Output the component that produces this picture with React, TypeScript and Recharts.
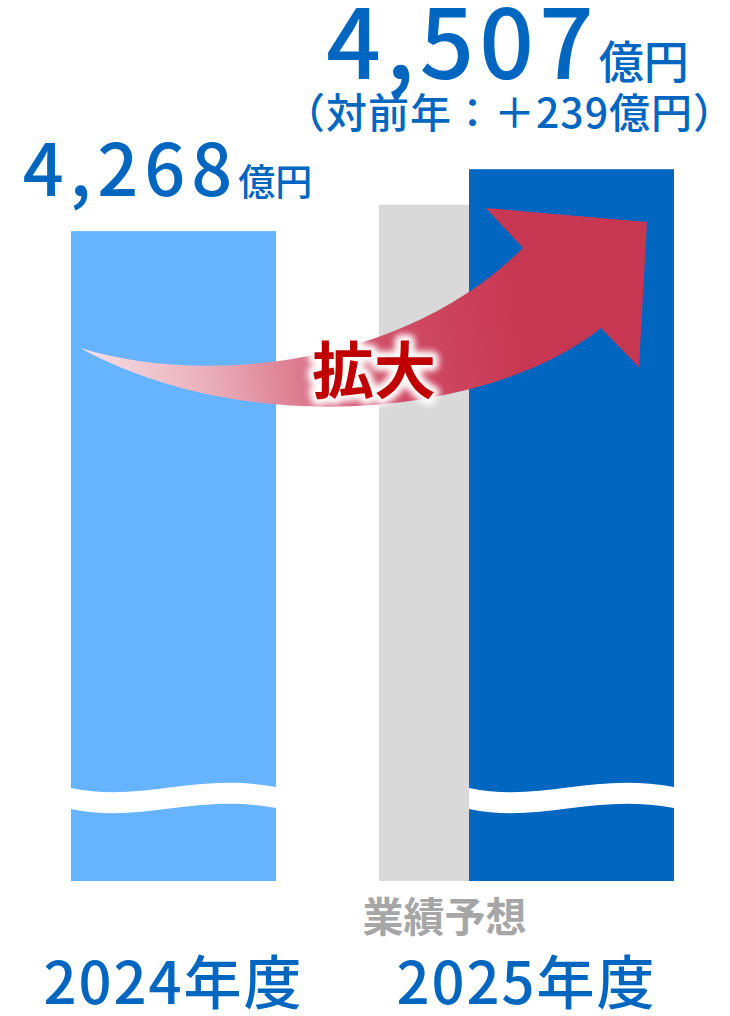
import { BarChart, Bar, XAxis, YAxis, Cell, LabelList } from 'recharts'

const years = ['2024年度', '2025年度']
const actual = [4268, 4507]
const forecast: (number | null)[] = [null, 4370]
const valueLabels = ['4,268', '4,507']
const yoyLabels = ['', '（対前年：＋239億円）']
const barColors = ['#66B3FF', '#0066C0']
const forecastLabel = '業績予想'
const arrowLabel = '拡大'

const BLUE = '#0066C0'
const FONT = "'Noto Sans CJK JP', sans-serif"
const BAR_SIZE = 205
const BAR_GAP = -115
const SHIFT = (BAR_SIZE + BAR_GAP) / 2

const data = years.map((year, i) => ({
  year,
  actual: actual[i],
  forecast: forecast[i],
}))

// bar with the white "axis break" wave near its foot
function WaveBar(props: any) {
  const { x, y, width, height, fill } = props
  if (!height) return null
  const b = y + height
  const w = width
  const wave =
    `M${x},${b - 93} C${x + w * 0.35},${b - 78} ${x + w * 0.6},${b - 109} ${x + w},${b - 94} ` +
    `L${x + w},${b - 73} C${x + w * 0.6},${b - 88} ${x + w * 0.35},${b - 57} ${x},${b - 72} Z`
  return (
    <g>
      <rect x={x} y={y} width={w} height={height} fill={fill} />
      <path d={wave} fill="#fff" />
    </g>
  )
}

function ValueLabel(props: any) {
  const { x, y, width, value } = props
  const i = actual.indexOf(value)
  const hasForecast = forecast[i] != null
  if (!hasForecast) {
    return (
      <text x={x + width / 2 - 6} y={y - 35} textAnchor="middle" fill={BLUE} fontFamily={FONT} fontWeight={500}>
        <tspan fontSize={72} letterSpacing={6}>{valueLabels[i]}</tspan>
        <tspan fontSize={37}>億円</tspan>
      </text>
    )
  }
  const cx = x + width / 2 - SHIFT - 19
  return (
    <g fill={BLUE} fontFamily={FONT} fontWeight={500}>
      <text x={cx} y={y - 90} textAnchor="middle">
        <tspan fontSize={96} letterSpacing={5}>{valueLabels[i]}</tspan>
        <tspan fontSize={45}>億円</tspan>
      </text>
      <text x={cx + 2} y={y - 41} textAnchor="middle" fontSize={41} letterSpacing={1}>
        {yoyLabels[i]}
      </text>
    </g>
  )
}

function YearLabel(props: any) {
  const { x, y, width, height, value } = props
  const i = years.indexOf(value)
  const cx = x + width / 2 - (forecast[i] != null ? SHIFT : 0)
  return (
    <text x={cx} y={y + height + 123} textAnchor="middle" fill={BLUE} fontFamily={FONT} fontWeight={500} fontSize={58} letterSpacing={2}>
      {value}
    </text>
  )
}

function ForecastLabel(props: any) {
  const { x, y, width, height } = props
  if (!height) return null
  return (
    <text x={x + width / 2 - 37} y={y + height + 51} textAnchor="middle" fill="#A6A6A6" fontFamily={FONT} fontWeight={700} fontSize={41}>
      {forecastLabel}
    </text>
  )
}

function GrowthArrow() {
  return (
    <svg width={730} height={1016} style={{ position: 'absolute', left: 0, top: 0, pointerEvents: 'none' }}>
      <defs>
        <linearGradient id="arrowGrad" gradientUnits="userSpaceOnUse" x1={80} y1={360} x2={520} y2={300}>
          <stop offset="0" stopColor="#F8E2E7" />
          <stop offset="0.3" stopColor="#E9AAB7" />
          <stop offset="0.65" stopColor="#D15069" />
          <stop offset="1" stopColor="#C83752" />
        </linearGradient>
        <filter id="glow" x="-20%" y="-20%" width="140%" height="140%">
          <feGaussianBlur stdDeviation="3" />
        </filter>
      </defs>
      <path
        d="M80,348 C200,385 400,370 523,248 L486,208 L647,222 L639,367 L601,328 C500,410 260,445 80,348 Z"
        fill="url(#arrowGrad)"
      />
      <text x={374} y={394} textAnchor="middle" fontFamily={FONT} fontWeight={700} fontSize={62} fill="#fff" stroke="#fff" strokeWidth={12} strokeLinejoin="round" filter="url(#glow)">
        {arrowLabel}
      </text>
      <text x={374} y={394} textAnchor="middle" fontFamily={FONT} fontWeight={700} fontSize={62} fill="#C00000">
        {arrowLabel}
      </text>
    </svg>
  )
}

export default function App() {
  return (
    <div style={{ position: 'absolute', left: 0, top: 0, width: 730, height: 1016, background: '#fff', overflow: 'hidden' }}>
      <BarChart
        width={730}
        height={1016}
        data={data}
        margin={{ top: 0, right: 5, bottom: 135, left: -71 }}
        barSize={BAR_SIZE}
        barGap={BAR_GAP}
      >
        <XAxis dataKey="year" hide />
        <YAxis type="number" domain={[1760, 5160]} hide />
        <Bar dataKey="forecast" fill="#D9D9D9" isAnimationActive={false}>
          <LabelList dataKey="forecast" content={ForecastLabel} />
        </Bar>
        <Bar dataKey="actual" shape={WaveBar} isAnimationActive={false}>
          {data.map((d, i) => (
            <Cell key={d.year} fill={barColors[i]} />
          ))}
          <LabelList dataKey="actual" content={ValueLabel} />
          <LabelList dataKey="year" content={YearLabel} />
        </Bar>
      </BarChart>
      <GrowthArrow />
    </div>
  )
}
